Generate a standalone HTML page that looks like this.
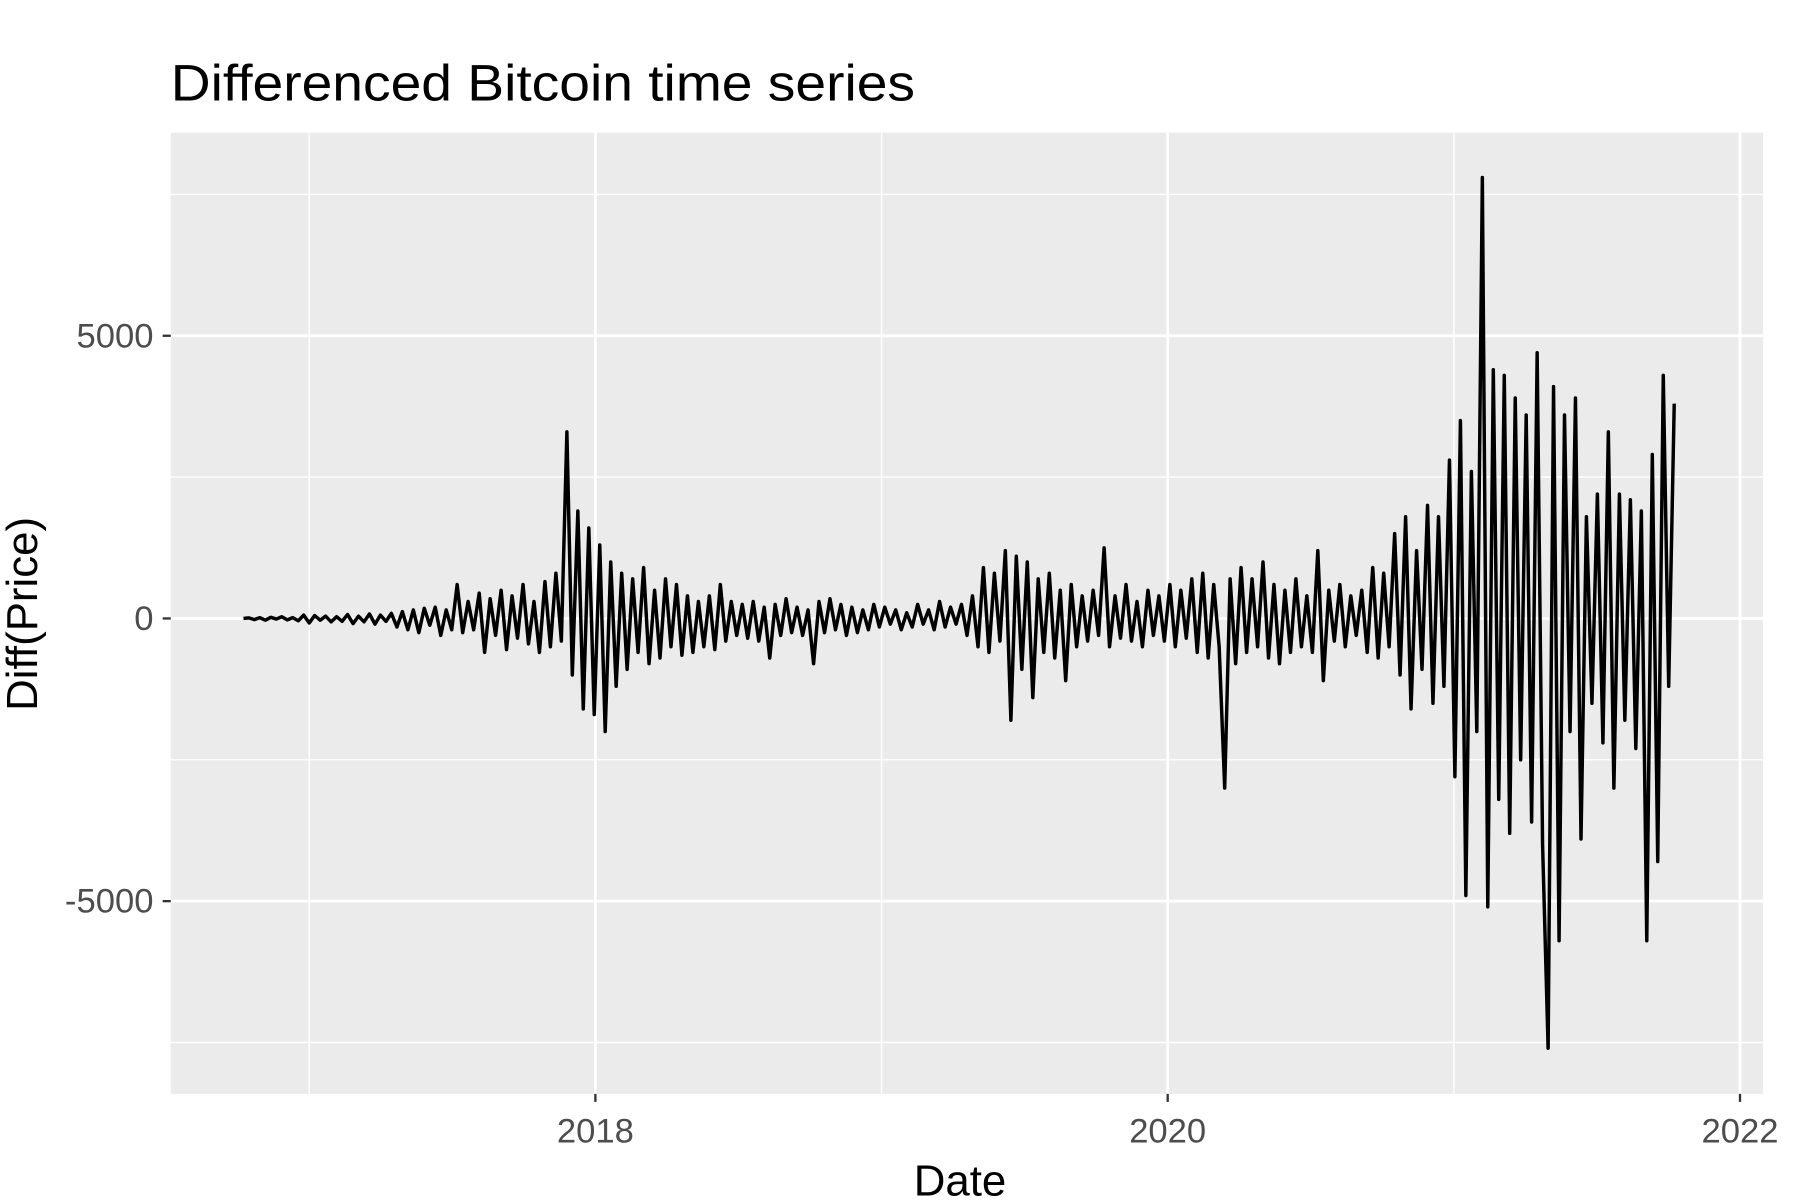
<!DOCTYPE html>
<html><head><meta charset="utf-8"><style>body{margin:0;background:#fff}svg{display:block}</style></head>
<body>
<svg id="chart" width="1800" height="1200" viewBox="0 0 1560 1040" preserveAspectRatio="none" font-family="Liberation Sans, sans-serif">
<rect width="1560" height="1040" fill="#fff"/>
<text x="148" y="87" font-size="44" textLength="645" lengthAdjust="spacingAndGlyphs" fill="#000">Differenced Bitcoin time series</text>
<rect x="148" y="115" width="1380" height="833" fill="#ebebeb"/>
<g id="grid"></g>
<g id="axes"></g>
<path id="series" fill="none" stroke="#000" stroke-width="3" stroke-linejoin="round"/>
<text x="832" y="1036" font-size="38" text-anchor="middle">Date</text>
<text transform="translate(32,532) rotate(-90)" font-size="38" text-anchor="middle">Diff(Price)</text>
</svg>
<script>
const startYear = 2016.77;
const endYear = 2021.77;
const values = [0,10,-20,15,-30,20,-10,30,-25,15,-40,60,
-80,50,-30,40,-60,30,-50,70,-90,40,-60,80,-100,60,-50,90,
-150,120,-200,150,-250,180,-120,200,-300,150,-200,600,-250,300,-200,
450,-600,350,-300,500,-550,400,-350,600,-450,300,-600,650,-500,800,-400,
3300,-1000,1900,-1600,1600,-1700,1300,-2000,1000,-1200,
800,-900,700,-600,900,-800,500,-700,700,-500,600,-650,400,-600,300,-500,400,-550,600,-400,300,
-300,250,-350,300,-400,200,-700,250,-300,350,-250,200,-300,150,-800,300,-250,350,-200,250,-300,200,-250,150,-200,250,
-150,200,-100,150,-200,100,-150,250,-100,150,-200,300,-150,200,-100,250,
-300,400,-500,900,-600,800,-400,1200,-1800,1100,-900,1000,-1400,700,-600,800,-700,500,-1100,600,-500,
400,-400,500,-300,1250,-500,400,-350,600,-400,300,-500,500,-300,400,
-400,600,-500,500,-350,700,-600,800,-700,600,-500,
-3000,
700,-800,900,-600,700,-500,1000,-700,600,-800,500,-600,700,-500,400,-600,1200,-1100,500,-400,600,-500,400,-300,500,-600,900,-700,800,-500,
1500,-1000,1800,-1600,1200,-900,2000,-1500,1800,-1200,
2800,-2800,3500,-4900,2600,-2000,
7800,
-5100,4400,-3200,4300,-3800,3900,-2500,3600,-3600,4700,-4000,
-7600,
4100,-5700,3600,-2000,3900,-3900,1800,-1500,2200,-2200,3300,-3000,2200,-1800,2100,-2300,1900,
-5700,
2900,-4300,4300,-1200,3800];
const xMajor = [2018, 2020, 2022];
const xMinor = [2017, 2019, 2021];
const yMajor = [-5000, 0, 5000];
const yMinor = [-7500, -2500, 2500, 7500];

const xs = y => 516 + (y - 2018) * 248;
const ys = v => 536 - v * 0.049;
const NS = 'http://www.w3.org/2000/svg';
const grid = document.getElementById('grid');
const axes = document.getElementById('axes');
function line(p, x1, y1, x2, y2, w, c, name) {
  const l = document.createElementNS(NS, 'line');
  l.setAttribute('x1', x1); l.setAttribute('y1', y1); l.setAttribute('x2', x2); l.setAttribute('y2', y2);
  l.setAttribute('stroke', c); l.setAttribute('stroke-width', w);
  
  
  p.appendChild(l);
}
function text(p, x, y, s, anchor, name) {
  const t = document.createElementNS(NS, 'text');
  t.setAttribute('x', x); t.setAttribute('y', y); t.setAttribute('font-size', '30');
  t.setAttribute('fill', '#4d4d4d'); t.setAttribute('text-anchor', anchor);
  t.textContent = s;
  
  
  p.appendChild(t);
}
yMinor.forEach(v => line(grid, 148, ys(v), 1528, ys(v), 1.2, '#fff', 'y-minor-gridline'));
xMinor.forEach(v => line(grid, xs(v), 115, xs(v), 948, 1.2, '#fff', 'x-minor-gridline'));
yMajor.forEach(v => {
  line(grid, 148, ys(v), 1528, ys(v), 2.4, '#fff', 'y-major-gridline');
  line(axes, 141, ys(v), 148, ys(v), 2, '#333', 'y-tick');
  text(axes, 133, ys(v) + 10, String(v), 'end', 'y-tick-label');
});
xMajor.forEach(v => {
  line(grid, xs(v), 115, xs(v), 948, 2.4, '#fff', 'x-major-gridline');
  line(axes, xs(v), 948, xs(v), 955, 2, '#333', 'x-tick');
  text(axes, xs(v), 990, String(v), 'middle', 'x-tick-label');
});
const n = values.length;
let d = '';
values.forEach((v, i) => {
  const yr = startYear + (endYear - startYear) * i / (n - 1);
  d += (i ? 'L' : 'M') + xs(yr).toFixed(1) + ',' + ys(v).toFixed(1);
});
document.getElementById('series').setAttribute('d', d);
</script>
</body></html>
